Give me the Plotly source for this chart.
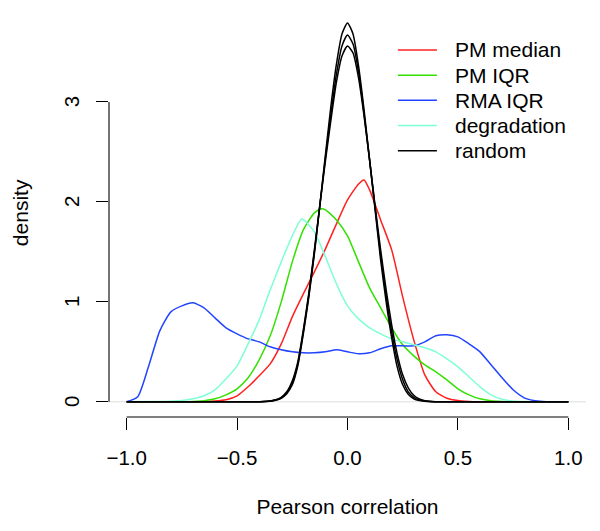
import plotly.graph_objects as go

# ---- data ----
pm_median_x = [-1.0, -0.7, -0.65, -0.6, -0.55, -0.5, -0.45, -0.4, -0.35, -0.3, -0.25, -0.2, -0.15, -0.1,
               -0.05, 0.0, 0.05, 0.075, 0.1, 0.15, 0.2, 0.25, 0.3, 0.35, 0.4, 0.45, 0.5, 0.55, 0.6, 0.65, 1.0]
pm_median_y = [0.0, 0.0, 0.002, 0.007, 0.02, 0.06, 0.15, 0.26, 0.38, 0.58, 0.85, 1.08, 1.30, 1.53,
               1.78, 2.02, 2.18, 2.22, 2.12, 1.82, 1.52, 1.05, 0.62, 0.27, 0.10, 0.035, 0.012, 0.004, 0.001, 0.0, 0.0]

pm_iqr_x = [-1.0, -0.75, -0.7, -0.65, -0.6, -0.55, -0.5, -0.45, -0.4, -0.35, -0.3, -0.25, -0.2, -0.15, -0.12,
            -0.1, -0.05, 0.0, 0.05, 0.1, 0.15, 0.2, 0.25, 0.3, 0.35, 0.4, 0.45, 0.5, 0.55, 0.6, 0.65, 0.7, 0.75, 1.0]
pm_iqr_y = [0.0, 0.0, 0.003, 0.01, 0.03, 0.07, 0.13, 0.24, 0.42, 0.66, 1.00, 1.40, 1.72, 1.89, 1.93,
            1.92, 1.82, 1.66, 1.40, 1.14, 0.94, 0.74, 0.57, 0.46, 0.37, 0.30, 0.22, 0.13, 0.07, 0.03, 0.01, 0.003, 0.0, 0.0]

rma_iqr_x = [-1.0, -0.95, -0.9, -0.85, -0.8, -0.75, -0.7, -0.65, -0.6, -0.55, -0.5, -0.45, -0.4, -0.35, -0.3,
             -0.25, -0.2, -0.15, -0.1, -0.05, 0.0, 0.05, 0.1, 0.15, 0.2, 0.25, 0.3, 0.35, 0.4, 0.45, 0.5,
             0.55, 0.6, 0.65, 0.7, 0.75, 0.8, 0.85, 0.9, 1.0]
rma_iqr_y = [0.0, 0.05, 0.36, 0.71, 0.90, 0.96, 0.99, 0.94, 0.84, 0.74, 0.68, 0.63, 0.60, 0.55, 0.52,
             0.50, 0.49, 0.49, 0.50, 0.52, 0.50, 0.48, 0.49, 0.53, 0.56, 0.56, 0.56, 0.60, 0.66, 0.67, 0.65,
             0.58, 0.50, 0.37, 0.24, 0.12, 0.04, 0.01, 0.0, 0.0]

degradation_x = [-1.0, -0.85, -0.8, -0.75, -0.7, -0.65, -0.6, -0.55, -0.5, -0.45, -0.4, -0.35, -0.3, -0.25,
                 -0.207, -0.15, -0.1, -0.05, 0.0, 0.05, 0.1, 0.15, 0.2, 0.25, 0.3, 0.35, 0.4, 0.45, 0.5,
                 0.55, 0.6, 0.65, 0.7, 0.75, 0.8, 0.85, 1.0]
degradation_y = [0.0, 0.002, 0.005, 0.012, 0.03, 0.06, 0.12, 0.23, 0.36, 0.58, 0.82, 1.12, 1.40, 1.66,
                 1.83, 1.70, 1.45, 1.18, 0.96, 0.83, 0.74, 0.68, 0.63, 0.60, 0.57, 0.54, 0.50, 0.43, 0.35,
                 0.25, 0.15, 0.07, 0.025, 0.008, 0.002, 0.0, 0.0]

random_x = [-1.0, -0.5, -0.4, -0.375, -0.35, -0.325, -0.3, -0.275, -0.25, -0.225, -0.2, -0.175, -0.15,
            -0.125, -0.1, -0.075, -0.05, -0.025, 0.0, 0.025, 0.05, 0.075, 0.1, 0.125, 0.15, 0.175, 0.2,
            0.225, 0.25, 0.275, 0.3, 0.325, 0.35, 0.375, 0.4, 0.5, 1.0]
random1_y = [0.0, 0.0, 0.001, 0.003, 0.006, 0.015, 0.035, 0.08, 0.17, 0.36, 0.68, 1.05, 1.48,
             1.97, 2.47, 2.96, 3.38, 3.68, 3.79, 3.68, 3.36, 2.92, 2.42, 1.92, 1.42, 1.00, 0.64,
             0.35, 0.17, 0.075, 0.03, 0.012, 0.005, 0.002, 0.001, 0.0, 0.0]
random2_y = [0.0, 0.0, 0.001, 0.003, 0.007, 0.018, 0.04, 0.09, 0.19, 0.38, 0.70, 1.07, 1.50,
             1.97, 2.44, 2.88, 3.28, 3.56, 3.67, 3.58, 3.30, 2.88, 2.42, 1.94, 1.47, 1.06, 0.70,
             0.42, 0.22, 0.10, 0.045, 0.018, 0.007, 0.003, 0.001, 0.0, 0.0]
random3_y = [0.0, 0.0, 0.001, 0.003, 0.008, 0.02, 0.045, 0.10, 0.21, 0.40, 0.72, 1.09, 1.52,
             1.97, 2.41, 2.82, 3.20, 3.46, 3.56, 3.49, 3.24, 2.86, 2.42, 1.96, 1.52, 1.12, 0.77,
             0.48, 0.27, 0.14, 0.065, 0.028, 0.011, 0.004, 0.001, 0.0, 0.0]

x_ticks = [-1.0, -0.5, 0.0, 0.5, 1.0]
x_ticktext = ["\u22121.0", "\u22120.5", "0.0", "0.5", "1.0"]
y_ticks = [0, 1, 2, 3]
y_ticktext = ["0", "1", "2", "3"]
x_title = "Pearson correlation"
y_title = "density"

legend_names = ["PM median", "PM IQR", "RMA IQR", "degradation", "random"]
legend_colors = ["#FF2020", "#33E000", "#2244FF", "#7FFFD4", "black"]

series = [
    (pm_median_x, pm_median_y),
    (pm_iqr_x, pm_iqr_y),
    (rma_iqr_x, rma_iqr_y),
    (degradation_x, degradation_y),
]

FONT = "Liberation Sans, Arial, Helvetica, sans-serif"
OFF = 8                      # page body margin offset
W, H = 600 - OFF, 531 - OFF  # figure fits the window exactly
# plot region in reference (window) pixels
PL, PR, PT, PB = 109.3, 586.0, 7.5, 417.3
L = PL - OFF
R = W - (PR - OFF)
T = max(PT - OFF, 0)
B = H - (PB - OFF)
PW, PH = W - L - R, H - T - B


def px_to_paper(px, py):
    fx, fy = px - OFF, py - OFF
    return (fx - L) / PW, (H - B - fy) / PH


fig = go.Figure()
for (xs, ys), name, col in zip(series, legend_names, legend_colors):
    fig.add_trace(go.Scatter(x=xs, y=ys, mode="lines", name=name, showlegend=False,
                             line=dict(color=col, width=1.5, shape="spline", smoothing=0.6)))
for ys in [random1_y, random2_y, random3_y]:
    fig.add_trace(go.Scatter(x=random_x, y=ys, mode="lines", name="random", showlegend=False,
                             line=dict(color="black", width=1.5, shape="spline", smoothing=0.6)))

shapes = [
    dict(type="line", xref="paper", yref="y", x0=0, x1=1, y0=0, y1=0,
         line=dict(color="#dddddd", width=1), layer="below"),
    dict(type="line", xref="x", yref="paper", x0=-1, x1=1, y0=0, y1=0,
         line=dict(color="black", width=1.1)),
    dict(type="line", xref="paper", yref="y", x0=0, x1=0, y0=0, y1=3,
         line=dict(color="black", width=1.1)),
]
annotations = []

# y tick labels (rotated, R style) and y title
ylab_x, _ = px_to_paper(72.5, 0)
for v, txt in zip(y_ticks, y_ticktext):
    annotations.append(dict(xref="paper", yref="y", x=ylab_x, y=v, text=txt, showarrow=False,
                            textangle=-90, xanchor="center", yanchor="middle",
                            font=dict(size=20.5, family=FONT)))
ytitle_x, _ = px_to_paper(21, 0)
annotations.append(dict(xref="paper", yref="paper", x=ytitle_x, y=0.5, text=y_title, showarrow=False,
                        textangle=-90, xanchor="center", yanchor="middle",
                        font=dict(size=21, family=FONT)))

row0, row_step = 50.0, 25.2
for i, (name, col) in enumerate(zip(legend_names, legend_colors)):
    py = row0 + i * row_step
    x0, y0 = px_to_paper(398, py)
    x1, _ = px_to_paper(437, py)
    xt, _ = px_to_paper(453, py)
    shapes.append(dict(type="line", xref="paper", yref="paper", x0=x0, x1=x1, y0=y0, y1=y0,
                       line=dict(color=col, width=1.5)))
    annotations.append(dict(xref="paper", yref="paper", x=xt, y=y0, text=name, showarrow=False,
                            xanchor="left", yanchor="middle", font=dict(size=21, family=FONT)))

fig.update_layout(
    width=W, height=H,
    margin=dict(l=L, r=R, t=T, b=B, pad=0),
    paper_bgcolor="white", plot_bgcolor="white",
    font=dict(family=FONT, size=20.5, color="black"),
    shapes=shapes,
    annotations=annotations,
    showlegend=False,
    xaxis=dict(range=[-1.08, 1.08], tickvals=x_ticks, ticktext=x_ticktext,
               ticks="outside", ticklen=12, tickwidth=1.1, tickcolor="black",
               ticklabelstandoff=10, automargin=False,
               showline=False, showgrid=False, zeroline=False,
               title=dict(text=x_title, standoff=31, font=dict(size=21))),
    yaxis=dict(range=[-0.152, 3.94], tickvals=y_ticks, showticklabels=False,
               ticks="outside", ticklen=12, tickwidth=1.1, tickcolor="black",
               automargin=False,
               showline=False, showgrid=False, zeroline=False),
)

fig.write_html("out.html")
